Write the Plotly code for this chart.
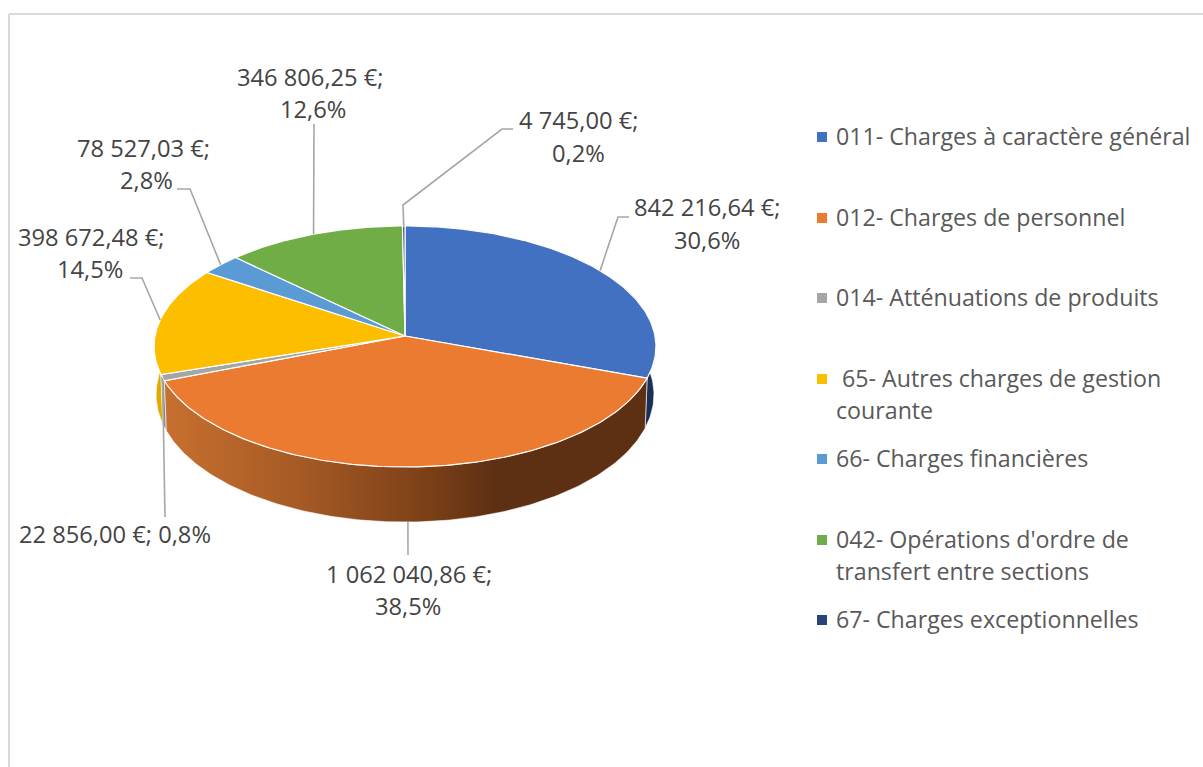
import math
import plotly.graph_objects as go

# ---------- data ----------
categories = ["011- Charges à caractère général", "012- Charges de personnel",
              "014- Atténuations de produits", "65- Autres charges de gestion courante",
              "66- Charges financières", "042- Opérations d'ordre de transfert entre sections",
              "67- Charges exceptionnelles"]
values = [842216.64, 1062040.86, 22856.00, 398672.48, 78527.03, 346806.25, 4745.00]
legend_lines = [["011- Charges à caractère général"], ["012- Charges de personnel"],
                ["014- Atténuations de produits"], ["\u00a065- Autres charges de gestion", "courante"],
                ["66- Charges financières"], ["042- Opérations d'ordre de", "transfert entre sections"],
                ["67- Charges exceptionnelles"]]

# ---------- styles and layout ----------
top_colors = ["#4371C1", "#EB7B30", "#A5A5A5", "#FDBE00", "#5B9BD5", "#70AD47", "#264478"]
wall_colors = ["#1B2F57", None, "#8A8A8A", "#E0AA00", "#2F5F8F", "#3F6B26", "#14264A"]
LABEL_COLOR, LEGEND_COLOR, LEADER_COLOR, FRAME_COLOR = "#444444", "#595959", "#A6A6A6", "#D9D9D9"
FONT = "Open Sans"
LABEL_SIZE, LEGEND_SIZE = 23.7, 23.2
CX, CY, RX, RY, PERSP = 405, 336, 250, 119.6, 0.0871      # top face
B_RX, B_RY, B_CY = 248, 126.6, 383.4                       # bottom face
# per slice: label lines (centre x, centre y)
label_pos = [[(707, 207), (707, 240)], [(409, 574), (408, 606)], [(115, 534)],
             [(91, 237), (90, 269)], [(143, 148), (146, 180)], [(310, 77), (313, 109)],
             [(578, 120), (578, 153)]]
# leader waypoints, leaving from the slice's rim
leader_via = [[(618, 217), (629, 217)], [(408, 555)], [(165, 517)], [(142, 278), (130, 278)],
              [(190, 189), (177, 189)], [(314, 124)], [(403, 205), (502, 129), (513, 129)]]
leader_from_bottom = [False, True, False, False, False, False, False]
legend_y = [137, 218, 298, 379, 459, 540, 620]
LEGEND_LINE = 32
LEGEND_MARK_X, LEGEND_TEXT_X = 822, 834


def rim(frac):
    t = 2 * math.pi * frac
    u, v = math.sin(t), math.cos(t)
    d = 1 + PERSP * v
    return CX + RX * u / d, CY - RY * v / d


def rim_bottom(frac):
    t = 2 * math.pi * frac
    u, v = math.sin(t), math.cos(t)
    d = 1 + PERSP * v
    return CX + B_RX * u / d, B_CY - B_RY * v / d


def arc(fn, a, b):
    n = max(2, int(abs(b - a) * 400))
    return [fn(a + (b - a) * i / n) for i in range(n + 1)]


def money(v):
    s = f"{v:,.2f}".replace(",", " ").replace(".", ",")
    return s + " €"


total = sum(values)
edges = [0]
for val in values:
    edges.append(edges[-1] + val / total)

fig = go.Figure()

# side walls
order = [6, 0, 5, 4, 3, 2, 1]
for i in order:
    top = arc(rim, edges[i], edges[i + 1])
    bot = arc(rim_bottom, edges[i], edges[i + 1])[::-1]
    pts = top + bot + [top[0]]
    kw = dict(fillcolor=wall_colors[i]) if wall_colors[i] else dict(
        fillgradient=dict(type="horizontal", start=163, stop=650,
                          colorscale=[[0, "#C8702F"], [0.28, "#A65A25"], [0.55, "#7A3F17"],
                                      [0.68, "#5E3013"], [1, "#5E3013"]]))
    fig.add_trace(go.Scatter(x=[p[0] for p in pts], y=[p[1] for p in pts], mode="lines",
                             fill="toself", line=dict(color="rgba(255,255,255,0.75)", width=0.8),
                             name=categories[i] + " (side)", hoverinfo="skip", **kw))

# top faces
for i in range(len(values)):
    pts = [(CX, CY)] + arc(rim, edges[i], edges[i + 1]) + [(CX, CY)]
    fig.add_trace(go.Scatter(x=[p[0] for p in pts], y=[p[1] for p in pts], mode="lines",
                             fill="toself", fillcolor=top_colors[i],
                             line=dict(color="white", width=1.2), name=categories[i],
                             text=[f"{money(values[i])}"] * len(pts), hoverinfo="name+text"))

# leaders
for i in range(len(values)):
    mid = (edges[i] + edges[i + 1]) / 2
    start = rim_bottom(mid) if leader_from_bottom[i] else rim(mid)
    pts = [start] + leader_via[i]
    fig.add_trace(go.Scatter(x=[p[0] for p in pts], y=[p[1] for p in pts], mode="lines",
                             line=dict(color=LEADER_COLOR, width=1.6), hoverinfo="skip",
                             name="leader"))

# data labels
annotations = []
for i, val in enumerate(values):
    pct = f"{val / total * 100:.1f}%".replace(".", ",")
    pos = label_pos[i]
    lines = [money(val) + ";", pct] if len(pos) == 2 else [money(val) + "; " + pct]
    for line, (x, y) in zip(lines, pos):
        annotations.append(dict(x=x, y=y, text=line, showarrow=False, xanchor="center", yanchor="middle",
                                font=dict(family=FONT, size=LABEL_SIZE, color=LABEL_COLOR)))

# legend
for i, lines in enumerate(legend_lines):
    fig.add_trace(go.Scatter(x=[LEGEND_MARK_X], y=[legend_y[i]], mode="markers", name=categories[i],
                             marker=dict(symbol="square", size=10, color=top_colors[i]), hoverinfo="name"))
    for k, line in enumerate(lines):
        annotations.append(dict(x=LEGEND_TEXT_X, y=legend_y[i] - 1 + k * LEGEND_LINE, text=line, showarrow=False,
                                xanchor="left", yanchor="middle",
                                font=dict(family=FONT, size=LEGEND_SIZE, color=LEGEND_COLOR)))

frame = [dict(type="line", x0=9, x1=9, y0=14, y1=767, line=dict(color=FRAME_COLOR, width=2)),
         dict(type="line", x0=9, x1=1203, y0=14, y1=14, line=dict(color=FRAME_COLOR, width=2))]

fig.update_layout(width=1203, height=767, margin=dict(l=0, r=0, t=0, b=0), showlegend=False,
                  paper_bgcolor="white", plot_bgcolor="white", annotations=annotations, shapes=frame,
                  xaxis=dict(range=[0, 1203], visible=False, fixedrange=True),
                  yaxis=dict(range=[767, 0], visible=False, fixedrange=True))

fig.write_html("out.html", config={"displayModeBar": False},
               post_script="document.body.style.margin='0';document.documentElement.style.overflow='hidden';")
